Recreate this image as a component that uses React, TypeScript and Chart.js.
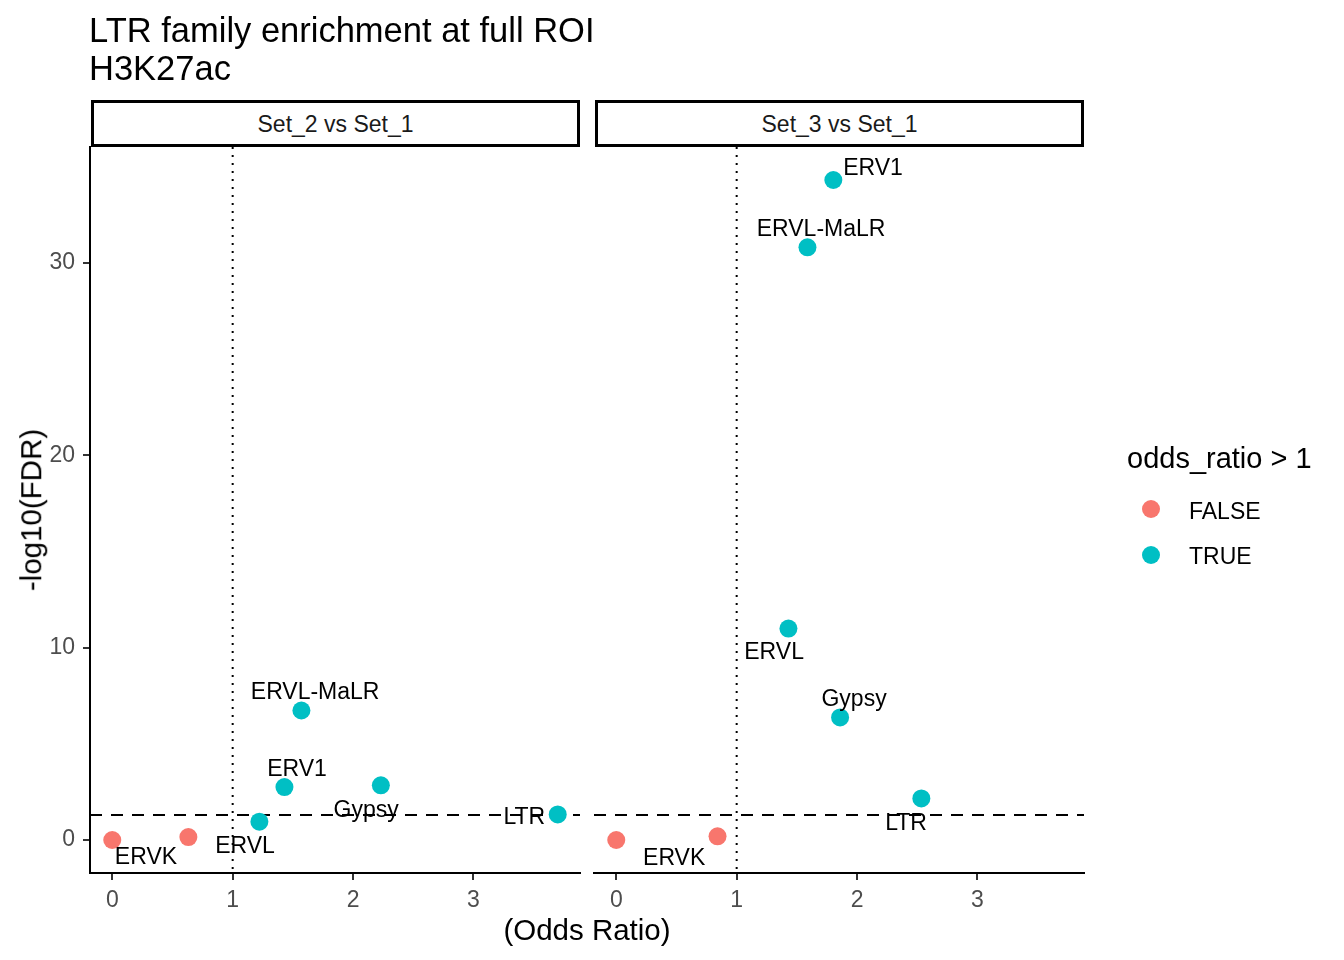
import React, { useEffect, useRef } from "react";
import { Chart, registerables } from "chart.js";

Chart.register(...registerables);

const FONT = '"Liberation Sans", Arial, Helvetica, sans-serif';

// ---- text ----
const chartTitle = ["LTR family enrichment at full ROI", "H3K27ac"];
const panelNames = ["Set_2 vs Set_1", "Set_3 vs Set_1"];
const xAxisTitle = "(Odds Ratio)";
const yAxisTitle = "-log10(FDR)";
const legendTitle = "odds_ratio > 1";
const groupNames = ["FALSE", "TRUE"];
const groupColors = ["#F8766D", "#00BFC4"];

// ---- data ----
const families = ["Other", "ERVK", "ERVL", "ERV1", "ERVL-MaLR", "Gypsy", "LTR"];
const pointLabels = ["", "ERVK", "ERVL", "ERV1", "ERVL-MaLR", "Gypsy", "LTR"];

const oddsSet2 = [0.0, 0.632, 1.222, 1.43, 1.571, 2.231, 3.7];
const fdrSet2 = [0.0, 0.15, 0.95, 2.75, 6.73, 2.84, 1.33];
const labelXSet2 = [0, 0.28, 1.103, 1.535, 1.685, 2.109, 3.422];
const labelYSet2 = [0, -0.83, -0.23, 3.74, 7.74, 1.63, 1.27];

const oddsSet3 = [0.0, 0.841, 1.43, 1.803, 1.588, 1.859, 2.534];
const fdrSet3 = [0.0, 0.19, 10.99, 34.3, 30.8, 6.37, 2.16];
const labelXSet3 = [0, 0.481, 1.311, 2.133, 1.701, 1.975, 2.407];
const labelYSet3 = [0, -0.87, 9.81, 34.98, 31.84, 7.4, 0.93];

const xTicks = [0, 1, 2, 3];
const yTicks = [0, 10, 20, 30];
const xRange = [-0.185, 3.885];
const yRange = [-1.715, 36.015];
const fdrThreshold = 0.05;
const oddsReference = 1;

const panelOdds = [oddsSet2, oddsSet3];
const panelFdr = [fdrSet2, fdrSet3];
const panelLabelX = [labelXSet2, labelXSet3];
const panelLabelY = [labelYSet2, labelYSet3];

// ---- layout ----
const W = 1344;
const H = 960;
const PANEL_TOP = 147;
const PANEL_BOTTOM = 873;
const panelBoxes = [
  { left: 90, right: 580 },
  { left: 594, right: 1084 },
];
const X_AXIS_H = 60;
const SMALL = 23;

function makePanel(canvas: HTMLCanvasElement, idx: number) {
  const showY = idx === 0;
  const box = panelBoxes[idx];
  const odds = panelOdds[idx];
  const fdr = panelFdr[idx];
  const lx = panelLabelX[idx];
  const ly = panelLabelY[idx];

  const datasets = groupNames.map((g, gi) => ({
    label: g,
    data: odds
      .map((o, i) => ({ x: o, y: fdr[i], fam: families[i] }))
      .filter((p) => (p.x > oddsReference) === (gi === 1)),
    backgroundColor: groupColors[gi],
    borderWidth: 0,
    pointRadius: 9,
    pointHoverRadius: 9,
  }));

  const refLines = {
    id: "refLines",
    beforeDatasetsDraw(chart: any) {
      const { ctx, chartArea, scales } = chart;
      ctx.save();
      ctx.strokeStyle = "#000";
      ctx.lineWidth = 2;
      const xp = scales.x.getPixelForValue(oddsReference);
      ctx.setLineDash([2, 6]);
      ctx.beginPath();
      ctx.moveTo(xp, chartArea.top);
      ctx.lineTo(xp, chartArea.bottom);
      ctx.stroke();
      const yp = scales.y.getPixelForValue(-Math.log10(fdrThreshold));
      ctx.setLineDash([12, 9]);
      ctx.beginPath();
      ctx.moveTo(chartArea.left, yp);
      ctx.lineTo(chartArea.right, yp);
      ctx.stroke();
      ctx.restore();
    },
  };

  const textLabels = {
    id: "textLabels",
    afterDatasetsDraw(chart: any) {
      const { ctx, scales } = chart;
      ctx.save();
      ctx.font = `${SMALL}px ${FONT}`;
      ctx.fillStyle = "#000";
      ctx.textAlign = "center";
      ctx.textBaseline = "alphabetic";
      pointLabels.forEach((t, i) => {
        if (!t) return;
        // anchor = centre of the capital letters
        ctx.fillText(
          t,
          scales.x.getPixelForValue(lx[i]),
          scales.y.getPixelForValue(ly[i]) + SMALL * 0.358
        );
      });
      ctx.restore();
    },
  };

  return new Chart(canvas, {
    type: "scatter",
    data: { datasets } as any,
    options: {
      animation: false,
      responsive: false,
      events: [],
      layout: {
        padding: {
          left: showY ? 0 : box.left,
          right: W - box.right,
          top: PANEL_TOP,
          bottom: H - PANEL_BOTTOM - X_AXIS_H,
        },
      },
      plugins: {
        legend: { display: false },
        tooltip: { enabled: false },
        title: { display: false },
      },
      scales: {
        x: {
          type: "linear",
          min: xRange[0],
          max: xRange[1],
          afterBuildTicks: (s: any) => {
            s.ticks = xTicks.map((v) => ({ value: v }));
          },
          afterFit: (s: any) => {
            s.height = X_AXIS_H;
          },
          grid: {
            drawOnChartArea: false,
            drawTicks: true,
            tickLength: 7,
            color: "#333333",
            lineWidth: 2,
          },
          border: { display: true, color: "#000", width: 2 },
          ticks: {
            font: { family: FONT, size: SMALL },
            color: "#4D4D4D",
            padding: 7,
            maxRotation: 0,
            autoSkip: false,
          },
        },
        y: {
          type: "linear",
          display: showY,
          min: yRange[0],
          max: yRange[1],
          afterBuildTicks: (s: any) => {
            s.ticks = yTicks.map((v) => ({ value: v }));
          },
          afterFit: (s: any) => {
            s.width = showY ? box.left : 0;
          },
          grid: {
            drawOnChartArea: false,
            drawTicks: true,
            tickLength: 7,
            color: "#333333",
            lineWidth: 2,
          },
          border: { display: true, color: "#000", width: 2 },
          ticks: {
            font: { family: FONT, size: SMALL },
            color: "#4D4D4D",
            padding: 8,
            autoSkip: false,
          },
        },
      },
    } as any,
    plugins: [refLines, textLabels],
  });
}

const abs = (style: React.CSSProperties): React.CSSProperties => ({
  position: "absolute",
  whiteSpace: "nowrap",
  lineHeight: 1,
  fontFamily: FONT,
  ...style,
});

export default function App() {
  const ref0 = useRef<HTMLCanvasElement>(null);
  const ref1 = useRef<HTMLCanvasElement>(null);

  useEffect(() => {
    const charts: Chart[] = [];
    if (ref0.current) charts.push(makePanel(ref0.current, 0));
    if (ref1.current) charts.push(makePanel(ref1.current, 1));
    return () => charts.forEach((c) => c.destroy());
  }, []);

  const canvasStyle: React.CSSProperties = {
    position: "absolute",
    left: 0,
    top: 0,
    width: W,
    height: H,
  };

  return (
    <div
      style={{
        position: "absolute",
        left: 0,
        top: 0,
        width: W,
        height: H,
        background: "#fff",
        overflow: "hidden",
        color: "#000",
      }}
    >
      <canvas ref={ref0} width={W} height={H} style={canvasStyle} />
      <canvas ref={ref1} width={W} height={H} style={canvasStyle} />

      {/* title */}
      <div style={abs({ left: 89, top: 30, fontSize: 34.5, transform: "translateY(-50%)" })}>
        {chartTitle[0]}
      </div>
      <div style={abs({ left: 89, top: 67.5, fontSize: 34.5, transform: "translateY(-50%)" })}>
        {chartTitle[1]}
      </div>

      {/* strips */}
      {panelNames.map((n, i) => (
        <div
          key={n}
          style={{
            position: "absolute",
            left: panelBoxes[i].left + 1,
            top: 100,
            width: panelBoxes[i].right - panelBoxes[i].left - 1,
            height: 46.5,
            boxSizing: "border-box",
            border: "3px solid #000",
            paddingTop: 3,
            background: "#fff",
            display: "flex",
            alignItems: "center",
            justifyContent: "center",
            fontFamily: FONT,
            fontSize: SMALL,
            lineHeight: 1,
            color: "#1A1A1A",
          }}
        >
          {n}
        </div>
      ))}

      {/* axis titles */}
      <div
        style={abs({
          left: (panelBoxes[0].left + panelBoxes[1].right) / 2,
          top: 930,
          fontSize: 29.5,
          transform: "translate(-50%, -50%)",
        })}
      >
        {xAxisTitle}
      </div>
      <div
        style={abs({
          left: 31,
          top: (PANEL_TOP + PANEL_BOTTOM) / 2,
          fontSize: 29.5,
          transform: "translate(-50%, -50%) rotate(-90deg)",
        })}
      >
        {yAxisTitle}
      </div>

      {/* legend */}
      <div style={abs({ left: 1127, top: 458, fontSize: 29, transform: "translateY(-50%)" })}>
        {legendTitle}
      </div>
      {groupNames.map((g, i) => (
        <React.Fragment key={g}>
          <div
            style={{
              position: "absolute",
              left: 1151 - 9,
              top: 509 + i * 45.5 - 9,
              width: 18,
              height: 18,
              borderRadius: "50%",
              background: groupColors[i],
            }}
          />
          <div
            style={abs({
              left: 1189,
              top: 510.5 + i * 45.5,
              fontSize: SMALL,
              transform: "translateY(-50%)",
            })}
          >
            {g}
          </div>
        </React.Fragment>
      ))}
    </div>
  );
}
